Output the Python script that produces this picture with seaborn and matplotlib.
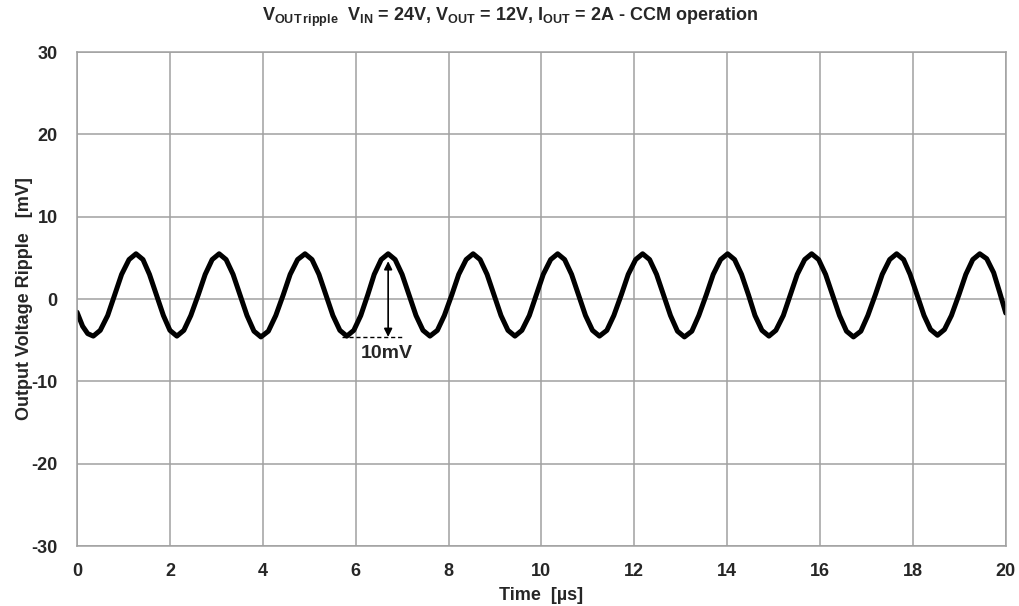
import matplotlib
matplotlib.use("Agg")
import matplotlib.pyplot as plt
import seaborn as sns
import pandas as pd

# Valeurs (temps en µs, ondulation en mV)
t_us = [0.00, 0.12, 0.23,
        0.35, 0.50, 0.66, 0.81, 0.96, 1.12, 1.27,
        1.42, 1.56, 1.71, 1.86, 2.00, 2.15,
        2.30, 2.45, 2.61, 2.76, 2.91, 3.06,
        3.21, 3.36, 3.51, 3.66, 3.81, 3.96,
        4.12, 4.28, 4.44, 4.59, 4.75, 4.91,
        5.06, 5.21, 5.36, 5.51, 5.66, 5.81,
        5.96, 6.11, 6.26, 6.40, 6.55, 6.70,
        6.85, 7.00, 7.15, 7.30, 7.45, 7.60,
        7.76, 7.91, 8.07, 8.22, 8.38, 8.53,
        8.68, 8.83, 8.98, 9.13, 9.28, 9.43,
        9.58, 9.74, 9.89, 10.04, 10.20, 10.35,
        10.50, 10.65, 10.80, 10.95, 11.10, 11.25,
        11.41, 11.56, 11.72, 11.87, 12.03, 12.18,
        12.33, 12.48, 12.63, 12.78, 12.93, 13.08,
        13.24, 13.39, 13.55, 13.70, 13.86, 14.01,
        14.16, 14.31, 14.46, 14.60, 14.75, 14.90,
        15.05, 15.21, 15.36, 15.51, 15.67, 15.82,
        15.97, 16.12, 16.27, 16.42, 16.57, 16.72,
        16.88, 17.03, 17.19, 17.34, 17.50, 17.65,
        17.80, 17.94, 18.09, 18.24, 18.38, 18.53,
        18.68, 18.83, 18.99, 19.14, 19.29, 19.44,
        19.59, 19.74, 19.87, 20.00]
v_mv = [-1.6, -3.3, -4.2,
        -4.5, -3.8, -2.0, 0.5, 3.0, 4.8, 5.5,
        4.8, 3.0, 0.5, -2.0, -3.8, -4.5,
        -3.8, -2.0, 0.5, 3.0, 4.8, 5.5,
        4.8, 3.0, 0.5, -2.0, -3.9, -4.6,
        -3.9, -2.0, 0.5, 3.0, 4.8, 5.5,
        4.8, 3.0, 0.5, -2.0, -3.8, -4.5,
        -3.8, -2.0, 0.5, 3.0, 4.8, 5.5,
        4.8, 3.0, 0.5, -2.0, -3.8, -4.5,
        -3.8, -2.0, 0.5, 3.0, 4.8, 5.5,
        4.8, 3.0, 0.5, -2.0, -3.8, -4.5,
        -3.8, -2.0, 0.5, 3.0, 4.8, 5.5,
        4.8, 3.0, 0.5, -2.0, -3.8, -4.5,
        -3.8, -2.0, 0.5, 3.0, 4.8, 5.5,
        4.8, 3.0, 0.5, -2.0, -3.9, -4.6,
        -3.9, -2.0, 0.5, 3.0, 4.8, 5.5,
        4.8, 3.0, 0.5, -2.0, -3.8, -4.5,
        -3.8, -2.0, 0.5, 3.0, 4.8, 5.5,
        4.8, 3.0, 0.5, -2.0, -3.9, -4.6,
        -3.9, -2.0, 0.5, 3.0, 4.8, 5.5,
        4.8, 3.0, 0.5, -2.0, -3.7, -4.4,
        -3.7, -2.0, 0.5, 3.0, 4.8, 5.5,
        4.9, 3.2, 0.8, -1.7]

x_ticks = list(range(0, 21, 2))
y_ticks = list(range(-30, 31, 10))

# annotation 10mV
arrow_t = 6.70
arrow_top = 4.6
arrow_bottom = -4.6
dash_t = [5.70, 6.99]

sns.set_style("white")
plt.rcParams["font.family"] = ["Liberation Sans", "DejaVu Sans"]
plt.rcParams["axes.unicode_minus"] = False
plt.rcParams["mathtext.fontset"] = "custom"
plt.rcParams["mathtext.bf"] = "Liberation Sans:bold"
plt.rcParams["mathtext.rm"] = "Liberation Sans:bold"

df = pd.DataFrame({"t": t_us, "v": v_mv})

fig = plt.figure(figsize=(10.19, 6.06), dpi=100)
ax = fig.add_axes([0.0756, 0.099, 0.9114, 0.815])
sns.lineplot(data=df, x="t", y="v", color="black", lw=3.6, sort=False, ax=ax)

ax.set_xlim(0, 20)
ax.set_ylim(-30, 30)
ax.set_xticks(x_ticks)
ax.set_yticks(y_ticks)
ax.grid(True, color="#a0a0a0", lw=1.1)
for s in ax.spines.values():
    s.set_color("#a0a0a0")
    s.set_linewidth(1.1)
ax.tick_params(length=0, labelsize=13)
ax.tick_params(axis="x", pad=12)
ax.tick_params(axis="y", pad=14)
for lab in ax.get_xticklabels() + ax.get_yticklabels():
    lab.set_fontweight("bold")

ax.set_xlabel("Time  [µs]", fontsize=13, fontweight="bold", labelpad=5)
ax.set_ylabel("Output Voltage Ripple   [mV]", fontsize=13, fontweight="bold", labelpad=-1)
fig.text(0.5, 1 - 17 / 606,
         r"$\mathbf{V_{OUT\,ripple}}$  $\mathbf{V_{IN}}$ = 24V, $\mathbf{V_{OUT}}$ = 12V, "
         r"$\mathbf{I_{OUT}}$ = 2A - CCM operation",
         fontsize=13, fontweight="bold", ha="center", va="center")

ax.annotate("", xy=(arrow_t, arrow_top), xytext=(arrow_t, arrow_bottom),
            arrowprops=dict(arrowstyle="<|-|>", color="black", lw=1.2,
                            mutation_scale=12, shrinkA=0, shrinkB=0))
ax.plot(dash_t, [arrow_bottom, arrow_bottom], color="black", lw=1, ls=(0, (3, 2)))
ax.text(6.67, -6.6, "10mV", fontsize=14, fontweight="bold", ha="center", va="center")

plt.savefig("out.png", dpi=100)
